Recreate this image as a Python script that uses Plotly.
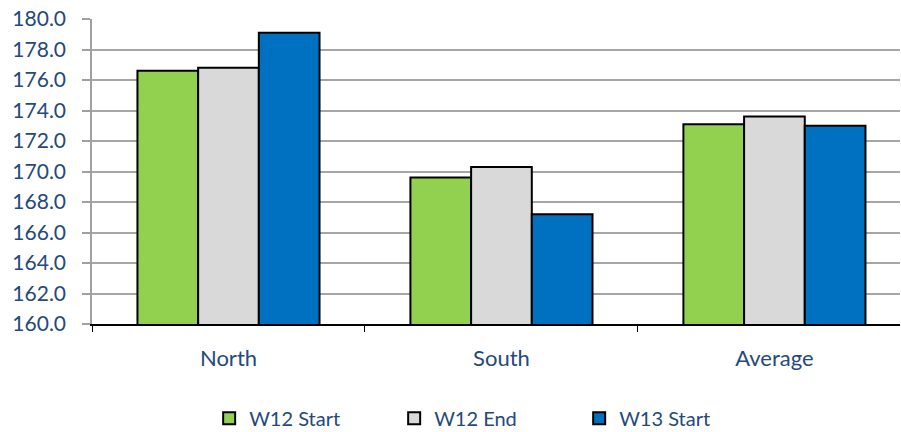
import plotly.graph_objects as go

# Regions on the category axis
regions = ["North", "South", "Average"]

# Readings per series
w12_start = [176.6, 169.6, 173.1]
w12_end = [176.8, 170.3, 173.6]
w13_start = [179.1, 167.2, 173.0]

series_names = ["W12 Start", "W12 End", "W13 Start"]
series_colors = ["#92D050", "#D9D9D9", "#0070C0"]

y_ticks = [160 + 2 * i for i in range(11)]
y_tick_labels = [f"{v:.1f}" for v in y_ticks]

text_color = "#24497B"
font_family = "Lato, 'Open Sans', sans-serif"

fig = go.Figure()
for name, values, color in zip(series_names, [w12_start, w12_end, w13_start], series_colors):
    fig.add_trace(go.Bar(
        x=regions,
        y=values,
        name=name,
        marker=dict(color=color, line=dict(color="#000000", width=2)),
    ))

fig.update_layout(
    width=901,
    height=432,
    margin=dict(l=92, r=1, t=19, b=108, autoexpand=False),
    paper_bgcolor="white",
    plot_bgcolor="white",
    barmode="group",
    bargap=0.333,
    bargroupgap=0,
    font=dict(family=font_family, size=20, color=text_color),
    showlegend=True,
    legend=dict(
        orientation="h",
        x=0.145,
        xanchor="left",
        yref="container",
        y=0.032,
        yanchor="middle",
        font=dict(size=20, color=text_color),
        entrywidth=140,
        entrywidthmode="pixels",
        traceorder="normal",
    ),
)

fig.update_xaxes(
    type="category",
    range=[-0.5, 2.46],
    showline=True,
    linecolor="#000000",
    linewidth=1.5,
    ticks="outside",
    tickson="boundaries",
    ticklen=6,
    tickcolor="#000000",
    showgrid=False,
    ticklabelstandoff=14,
    tickfont=dict(size=22, color=text_color),
)

fig.update_yaxes(
    range=[160, 180],
    tickvals=y_ticks,
    ticktext=y_tick_labels,
    showline=True,
    linecolor="#A0A0A0",
    linewidth=1.5,
    ticks="outside",
    ticklen=8,
    tickcolor="#A0A0A0",
    tickwidth=1.5,
    showgrid=True,
    gridcolor="#A6A6A6",
    gridwidth=1.5,
    zeroline=False,
    ticklabelstandoff=12,
    tickfont=dict(size=21, color=text_color),
)

fig.write_html("out.html")
